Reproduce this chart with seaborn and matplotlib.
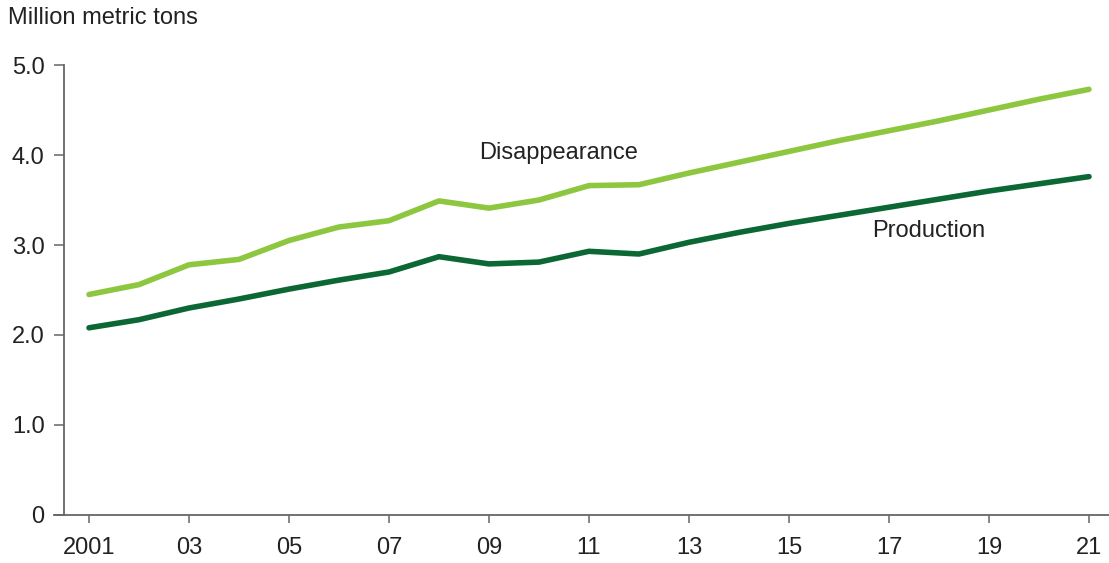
import pandas as pd
import matplotlib.pyplot as plt
import seaborn as sns

years = list(range(2001, 2022))
disappearance = [2.45, 2.56, 2.78, 2.84, 3.05, 3.20, 3.27, 3.49, 3.41, 3.50, 3.66,
                 3.67, 3.80, 3.92, 4.04, 4.16, 4.27, 4.38, 4.50, 4.62, 4.73]
production = [2.08, 2.17, 2.30, 2.40, 2.51, 2.61, 2.70, 2.87, 2.79, 2.81, 2.93,
              2.90, 3.03, 3.14, 3.24, 3.33, 3.42, 3.51, 3.60, 3.68, 3.76]
x_ticks = list(range(2001, 2022, 2))
x_labels = ["2001"] + [f"{y % 100:02d}" for y in x_ticks[1:]]
y_ticks = [0, 1, 2, 3, 4, 5]
y_labels = ["0", "1.0", "2.0", "3.0", "4.0", "5.0"]

df = pd.DataFrame({
    "year": years * 2,
    "value": disappearance + production,
    "series": ["Disappearance"] * len(years) + ["Production"] * len(years),
})

sns.set_theme(style="white")
plt.rcParams["font.family"] = ["Liberation Sans", "DejaVu Sans"]

fig = plt.figure(figsize=(11.09, 5.63), dpi=100)
ax = fig.add_axes([0.0577, 0.0853, 0.9423, 0.7992])

palette = {"Disappearance": "#8dc63f", "Production": "#0b6734"}
sns.lineplot(data=df, x="year", y="value", hue="series", palette=palette,
             linewidth=4.0, legend=False, ax=ax)
for line in ax.lines:
    line.set_solid_capstyle("round")

ax.set_xlim(2000.5, 2021.4)
ax.set_ylim(0, 5)
ax.set_xticks(x_ticks)
ax.set_xticklabels(x_labels)
ax.set_yticks(y_ticks)
ax.set_yticklabels(y_labels)
ax.set_xlabel("")
ax.set_ylabel("")

spine_color = "#666666"
for side in ["top", "right"]:
    ax.spines[side].set_visible(False)
for side in ["left", "bottom"]:
    ax.spines[side].set_color(spine_color)
    ax.spines[side].set_linewidth(1.3)
ax.spines["bottom"].set_bounds(2000.3, 2021.4)

ax.tick_params(axis="y", direction="out", length=7, width=1.1, color=spine_color,
               labelsize=17, labelcolor="#222222", pad=7, left=True)
ax.tick_params(axis="x", direction="out", length=6, width=1.1, color=spine_color,
               labelsize=17, labelcolor="#222222", pad=10, bottom=True)

ax.text(2010.4, 4.02, "Disappearance", fontsize=17, color="#222222",
        ha="center", va="center")
ax.text(2017.8, 3.16, "Production", fontsize=17, color="#222222",
        ha="center", va="center")

fig.text(0.007, 0.968, "Million metric tons", fontsize=17, color="#222222",
         ha="left", va="center")

fig.savefig("out.png", dpi=100)
